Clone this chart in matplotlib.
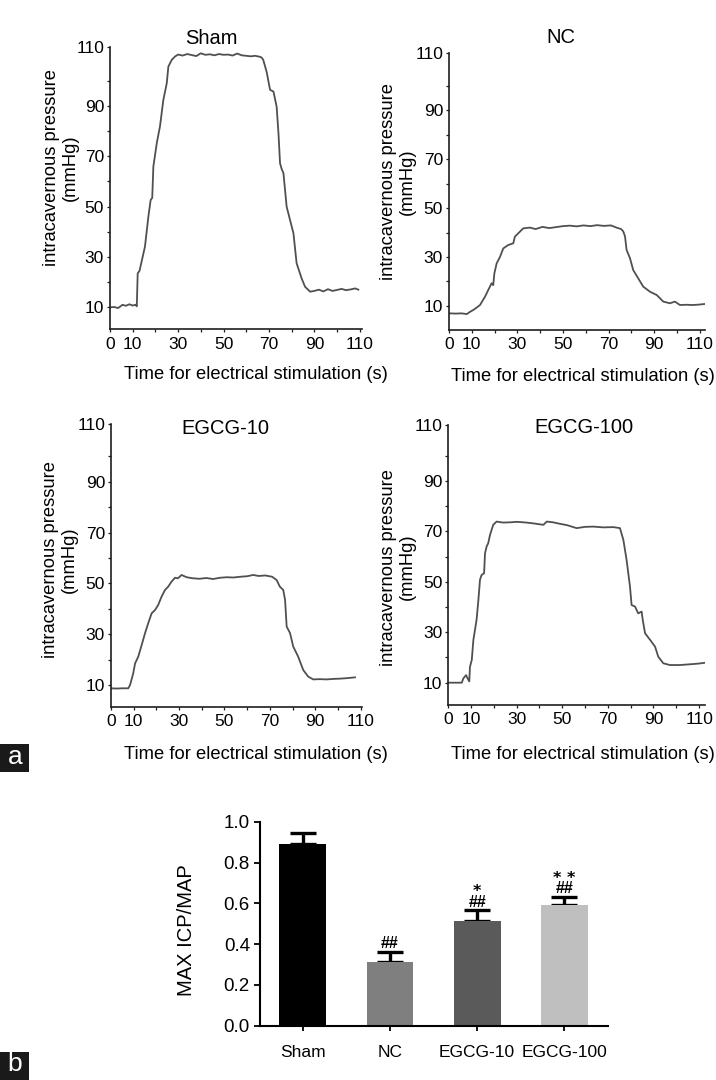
import matplotlib
matplotlib.use("Agg")
import matplotlib.pyplot as plt
from matplotlib.patches import Rectangle
from matplotlib.ticker import FormatStrFormatter

plt.rcParams['font.family'] = ['Liberation Sans', 'DejaVu Sans']

# ---------------- data ----------------
sham_t = [0, 2, 3.5, 4.5, 5.5, 7, 8.5, 10, 11.3, 11.8, 12.2, 13.0, 13.9, 15.4, 16.9, 17.9, 18.6, 19.1,
          20.6, 22.0, 23.5, 25.0, 25.7, 27.2, 28.6, 30, 32, 34, 36, 38, 40, 42, 44, 46, 48, 50, 52, 54,
          56, 58, 60, 62, 64, 66, 66.8, 67.5, 69.0, 70.5, 72.0, 73.4, 74.2, 74.9, 75.6, 76.4, 77.8,
          79.3, 80.8, 82.2, 84.4, 85.9, 88.1, 90, 92, 94, 96, 98, 100, 102, 104, 106, 108, 109.4]
sham_p = [10.0, 10.1, 9.7, 10.3, 11.0, 10.6, 11.2, 10.7, 11.0, 10.4, 23.5, 24.5, 28.1, 34.1, 46.0,
          52.6, 53.5, 65.9, 75.2, 81.8, 92.4, 99.0, 105.6, 108.3, 109.6, 110.4, 110.0, 110.6, 110.2,
          109.8, 110.9, 110.3, 110.5, 110.1, 110.6, 110.3, 110.4, 110.0, 110.8, 110.1, 109.9, 109.7,
          109.9, 109.5, 109.2, 108.3, 103.5, 96.4, 95.7, 89.7, 79.2, 67.2, 65.0, 63.3, 50.0, 44.7,
          39.4, 27.5, 21.5, 18.2, 16.2, 16.5, 17.0, 16.3, 17.2, 16.5, 16.9, 17.3, 16.8, 17.1, 17.5, 17.0]

nc_t = [0, 3, 5.5, 7.8, 9.2, 10.7, 12.2, 13.6, 15.8, 17.2, 18.7, 19.4, 19.9, 20.9, 22.4, 23.8, 26.0,
        28.2, 28.9, 30.4, 32.6, 35.5, 38, 41, 44, 47, 50, 53, 56, 59, 62, 65, 68, 71, 73.5, 75.5,
        76.4, 77.2, 77.9, 79.4, 80.8, 83.0, 85.2, 88.2, 91.1, 94.0, 96.9, 99.1, 101.3, 104, 107.2, 110, 112]
nc_p = [7.0, 6.9, 7.0, 6.7, 7.6, 8.4, 9.4, 10.4, 13.8, 16.5, 19.3, 18.5, 23.3, 27.4, 30.1, 33.5, 34.9,
        35.6, 38.3, 39.7, 41.7, 42.0, 41.4, 42.3, 41.8, 42.2, 42.6, 42.8, 42.5, 42.9, 42.6, 43.0, 42.7,
        42.9, 42.0, 41.4, 40.5, 38.5, 32.9, 29.5, 24.7, 21.3, 17.9, 15.8, 14.5, 11.8, 11.1, 11.8, 10.4,
        10.5, 10.4, 10.6, 10.8]

e10_t = [0, 2.5, 5, 7.6, 8.4, 9.8, 10.6, 12.0, 13.5, 15.0, 16.4, 17.9, 19.4, 20.8, 22.3, 23.8, 25.2,
         26.7, 28.2, 29.5, 31.1, 33.3, 36, 39, 42, 45, 48, 51, 54, 57, 60, 62.7, 65, 68, 71, 73.0,
         74.4, 75.9, 76.7, 77.4, 78.9, 80.3, 82.5, 84.7, 86.9, 89.1, 92, 95, 98, 101, 104, 107.5]
e10_p = [8.7, 8.6, 8.7, 8.7, 10.0, 14.6, 18.5, 21.1, 25.7, 30.4, 34.3, 38.2, 39.5, 41.5, 44.8, 47.4,
         48.7, 50.7, 52.2, 52.0, 53.3, 52.4, 52.0, 51.8, 52.1, 51.7, 52.2, 52.4, 52.3, 52.6, 52.8, 53.3,
         52.9, 53.1, 52.6, 51.3, 48.7, 47.4, 43.5, 33.0, 30.4, 25.1, 21.1, 15.9, 13.3, 12.2, 12.3, 12.2,
         12.4, 12.5, 12.7, 13.0]

e100_t = [0, 3, 5.9, 6.6, 7.8, 8.3, 9.2, 9.5, 10.3, 11.0, 11.7, 12.4, 13.2, 13.9, 14.6, 15.7, 16.1,
          16.8, 17.5, 18.3, 19.7, 21.2, 24, 27.1, 30, 34.4, 38, 41.7, 43.2, 46, 49.0, 52, 56.3, 60,
          63.6, 68, 72.4, 75.3, 76.8, 78.2, 79.7, 80.4, 81.9, 83.3, 84.8, 85.3, 86.3, 88.5, 90.7, 92.1,
          94.3, 97.2, 101.6, 104.5, 107.5, 110, 112.6]
e100_p = [10, 10, 10, 11.7, 13.0, 12.0, 10.5, 16.3, 19.0, 27.0, 30.9, 34.9, 42.8, 50.8, 52.7, 53.4,
          61.3, 64.0, 65.3, 68.6, 72.6, 73.9, 73.5, 73.6, 73.8, 73.5, 73.1, 72.6, 73.9, 73.6, 73.0,
          72.5, 71.3, 71.8, 71.9, 71.6, 71.7, 71.3, 66.6, 58.7, 48.1, 40.8, 40.2, 37.5, 38.2, 34.9,
          29.6, 27.0, 24.3, 20.3, 17.7, 17.0, 17.0, 17.2, 17.4, 17.6, 17.9]

x_major = [0, 10, 30, 50, 70, 90, 110]
x_minor = [20, 40, 60, 80, 100]
y_major_vals = [10, 30, 50, 70, 90]
y_labels = ['10', '30', '50', '70', '90', '110']
y_minor = [20, 40, 60, 80, 100]

groups = ['Sham', 'NC', 'EGCG-10', 'EGCG-100']
ratio = [0.889, 0.311, 0.511, 0.593]
ratio_err = [0.054, 0.050, 0.055, 0.038]
bar_colors = ['#000000', '#7f7f7f', '#5a5a5a', '#bfbfbf']
sig_marks = ['', '##', r'$\mathbf{*}$' + '\n##', r'$\mathbf{*\,*}$' + '\n##']

# ---------------- figure ----------------
W, H = 716, 1080
fig = plt.figure(figsize=(W / 100, H / 100), dpi=100)
fig.patch.set_facecolor('white')


def add_ax(l, r, t, b):
    return fig.add_axes([l / W, 1 - b / H, (r - l) / W, (b - t) / H])


def ftext(x, y, s, **kw):
    return fig.text(x / W, 1 - y / H, s, **kw)


SPINE = '#1e1e1e'
LINE = '#505050'


def trace_panel(box, xlim, ylim, t, p, title, tpos, xlpos, ylpos):
    ax = add_ax(*box)
    ax.plot(t, p, color=LINE, lw=1.3)
    ax.set_xlim(*xlim)
    ax.set_ylim(*ylim)
    for s in ['top', 'right']:
        ax.spines[s].set_visible(False)
    for s in ['left', 'bottom']:
        ax.spines[s].set_linewidth(1.2)
        ax.spines[s].set_color(SPINE)
    ax.set_xticks(x_major)
    ax.set_xticklabels([str(v) for v in x_major])
    ax.set_xticks(x_minor, minor=True)
    ax.set_yticks(y_major_vals + [ylim[1]])
    ax.set_yticklabels(y_labels)
    ax.set_yticks(y_minor, minor=True)
    ax.tick_params(axis='both', which='both', direction='out', length=2.5, width=0.9,
                   color=SPINE, labelsize=12.5)
    ax.tick_params(axis='y', which='major', pad=1.8)
    ax.tick_params(axis='x', which='major', pad=2.7)
    ftext(tpos[0], tpos[1], title, fontsize=14.5, ha='center', va='baseline')
    ftext(xlpos[0], xlpos[1], 'Time for electrical stimulation (s)', fontsize=13.2,
          ha='center', va='baseline')
    ftext(ylpos[0], ylpos[1], 'intracavernous pressure\n(mmHg)', fontsize=13.2, rotation=90,
          ha='center', va='center', multialignment='center', linespacing=1.15)
    return ax


trace_panel((110, 362, 47, 329.3), (0, 111), (1.26, 113.4), sham_t, sham_p, 'Sham',
            (211.7, 44), (256, 379), (60.5, 168))
trace_panel((449, 705, 52.7, 330), (0, 112.3), (0.2, 113.4), nc_t, nc_p, 'NC',
            (561.3, 43.3), (582.5, 381), (397.5, 182))
trace_panel((111, 362, 424, 706.7), (0, 110.6), (1.46, 112.7), e10_t, e10_p, 'EGCG-10',
            (225.8, 434), (256, 759), (59.5, 560))
trace_panel((448.3, 705, 425, 705), (0, 112.6), (1.15, 112.2), e100_t, e100_p, 'EGCG-100',
            (584.2, 433.3), (582.5, 759), (397.5, 567))

# ---------------- bar chart ----------------
axb = add_ax(260, 608, 821.7, 1025.7)
xs = list(range(len(groups)))
axb.bar(xs, ratio, width=0.535, color=bar_colors, linewidth=0, zorder=2)
axb.errorbar(xs, ratio, yerr=[[0] * len(ratio), ratio_err], fmt='none', ecolor='black',
             elinewidth=2.4, capsize=9.6, capthick=2.4, zorder=1)
axb.set_xlim(-0.49, 3.5)
axb.set_ylim(0, 1.0)
axb.set_yticks([0.0, 0.2, 0.4, 0.6, 0.8, 1.0])
axb.yaxis.set_major_formatter(FormatStrFormatter('%.1f'))
axb.set_xticks(xs)
axb.set_xticklabels(groups)
for s in ['top', 'right']:
    axb.spines[s].set_visible(False)
for s in ['left', 'bottom']:
    axb.spines[s].set_linewidth(1.5)
    axb.spines[s].set_color('black')
axb.tick_params(axis='y', direction='out', length=4.3, width=1.3, labelsize=13.5, pad=2.9)
axb.tick_params(axis='x', direction='out', length=3.6, width=1.3, labelsize=12.5, pad=10.5)
for i in xs:
    if sig_marks[i]:
        cap = ratio[i] + ratio_err[i]
        axb.annotate(sig_marks[i], xy=(i, cap), xytext=(0, 2.6), textcoords='offset points',
                     ha='center', va='baseline', fontsize=11.5, fontweight='bold',
                     multialignment='center', linespacing=0.78)
ftext(186.7, 930, 'MAX ICP/MAP', fontsize=14.5, rotation=90, ha='center', va='center')

# ---------------- panel labels ----------------
for lab, top, cy in [('a', 744, 757), ('b', 1052, 1064)]:
    fig.patches.append(Rectangle((0, 1 - (top + 28) / H), 29 / W, 28 / H,
                                 transform=fig.transFigure, facecolor='#1a1a1a',
                                 edgecolor='none', zorder=0))
    ftext(15, cy, lab, color='white', fontsize=19, ha='center', va='center')

fig.savefig('out.png', dpi=100, facecolor='white')
